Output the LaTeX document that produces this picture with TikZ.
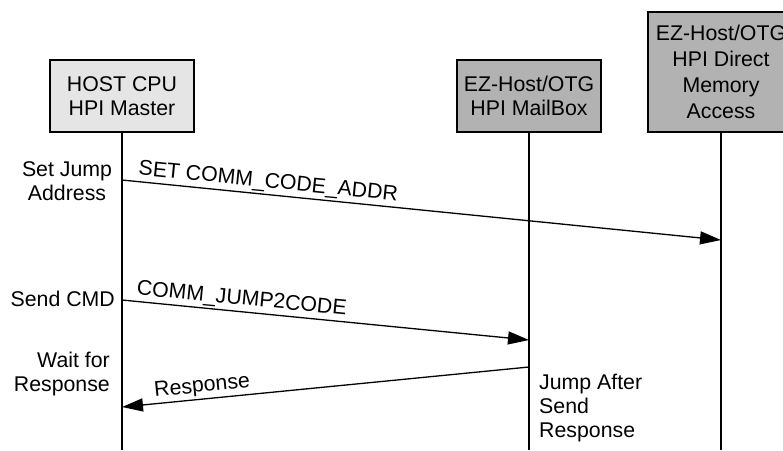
\documentclass[tikz,border=0pt]{standalone}
\usepackage{fontspec}
\setmainfont{Liberation Sans}
\usepackage{tikz}
\usetikzlibrary{arrows.meta}

\begin{document}
\begin{tikzpicture}[x=1pt, y=-1pt, font=\fontsize{21.3}{24}\selectfont,
		lifebox/.style={rectangle, draw, line width=1.6pt, minimum width=144pt, align=center, inner sep=0pt},
		life/.style={line width=1.4pt},
		msg/.style={line width=1.3pt, -{Triangle[length=21pt, width=13pt]}},
		msgback/.style={line width=1.3pt, {Triangle[length=21pt, width=13pt]}-},
		msglabel/.style={sloped, above, inner sep=2pt}]
			\useasboundingbox (0,0) rectangle (783,450);
			\clip (0,0) rectangle (783,450);
			\node[lifebox, fill=black!10, minimum height=72pt] (host) at (122,96) {HOST CPU\\HPI Master};
			\node[lifebox, fill=black!30, minimum height=72pt] (mailbox) at (529,96) {EZ-Host/OTG\\HPI MailBox};
			\node[lifebox, fill=black!30, minimum height=120pt, minimum width=146pt,
				font=\fontsize{21.3}{26}\selectfont] (dma) at (721,72) {EZ-Host/OTG\\HPI Direct\\Memory\\Access};
			
			% Lifelines
			\coordinate (hostend) at (122,450);
			\coordinate (mailboxend) at (529,450);
			\coordinate (dmaend) at (721,450);
			\draw[life] (host.south) -- (hostend);
			\draw[life] (mailbox.south) -- (mailboxend);
			\draw[life] (dma.south) -- (dmaend);
			
			% Message points
			\coordinate (h1) at (122,180);
			\coordinate (d1) at (721,240);
			\coordinate (h2) at (122,300);
			\coordinate (m2) at (529,340);
			\coordinate (m3) at (529,367);
			\coordinate (h3) at (122,407);
			
			% Draw arrows
			\draw[msg] (h1) -- (d1) node[msglabel, pos=0.242] {SET COMM\_CODE\_ADDR};
			\draw[msg] (h2) -- (m2) node[msglabel, pos=0.291] {COMM\_JUMP2CODE};
			\draw[msgback] (h3) -- (m3) node[msglabel, pos=0.2] {Response};
			
			% Labels
			\node[align=center] (setjump) at (67,181) {Set Jump\\Address};
			\node[anchor=east, inner sep=0pt] (sendcmd) at (115,299) {Send CMD};
			\node[anchor=east, align=right, inner sep=0pt] (wait) at (110,374) {Wait for\\Response};
			\node[anchor=west, align=left, inner sep=0pt] (jump) at (539,408) {Jump After\\Send\\Response};
		\end{tikzpicture}
\end{document}
